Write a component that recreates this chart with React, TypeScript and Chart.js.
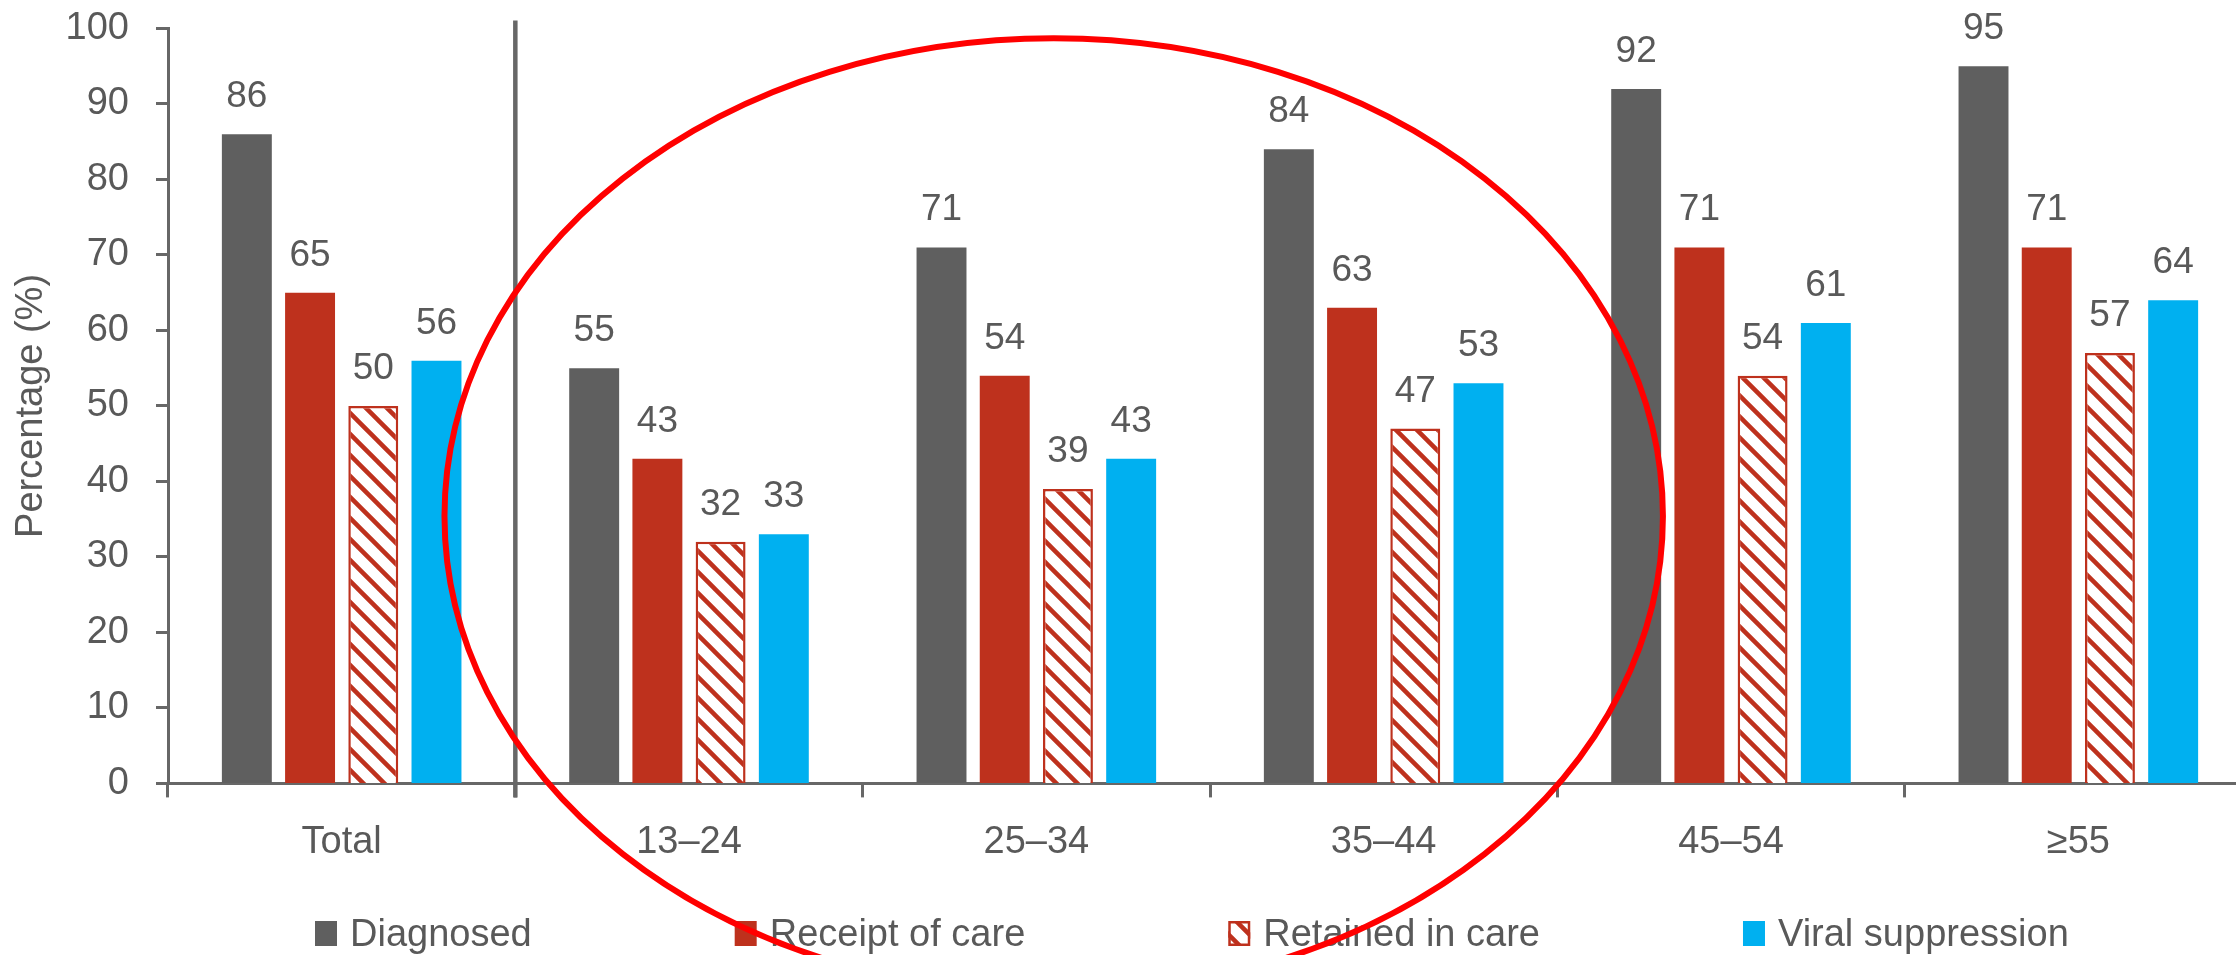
import { useEffect, useRef } from "react";
import { Chart, registerables } from "chart.js";

Chart.register(...registerables);

// Care continuum by age group, percentages
const categories = ["Total", "13–24", "25–34", "35–44", "45–54", "≥55"];
const seriesNames = ["Diagnosed", "Receipt of care", "Retained in care", "Viral suppression"];
const diagnosed = [86, 55, 71, 84, 92, 95];
const receiptOfCare = [65, 43, 54, 63, 71, 71];
const retainedInCare = [50, 32, 39, 47, 54, 57];
const viralSuppression = [56, 33, 43, 53, 61, 64];
const yAxisTitle = "Percentage (%)";

// Highlight ring around the younger age groups, in axis units (category index / percent)
const highlightCenterIndex = 2.05;
const highlightCenterValue = 35.4;
const highlightHalfWidth = 1.754;
const highlightHalfHeight = 63.3;

const GRAY = "#5F5F5F";
const RED = "#BE311D";
const BLUE = "#00B0F0";
const TEXT = "#595959";
const AXIS = "#676767";
const FONT = "'Liberation Sans', Arial, sans-serif";

function makeHatch(): CanvasPattern | string {
  const s = 21;
  const c = document.createElement("canvas");
  c.width = s;
  c.height = s;
  const g = c.getContext("2d");
  if (!g) return RED;
  g.fillStyle = "#FFFFFF";
  g.fillRect(0, 0, s, s);
  g.strokeStyle = RED;
  g.lineWidth = 4.5;
  g.beginPath();
  g.moveTo(-3, -3);
  g.lineTo(s + 3, s + 3);
  g.moveTo(-3, s - 3);
  g.lineTo(3, s + 3);
  g.moveTo(s - 3, -3);
  g.lineTo(s + 3, 3);
  g.stroke();
  const p = g.createPattern(c, "repeat");
  return p || RED;
}

const separatorPlugin = {
  id: "groupSeparator",
  afterDraw(chart: any) {
    const { ctx, chartArea, scales } = chart;
    const x = scales.x.getPixelForValue(0.5);
    ctx.save();
    ctx.strokeStyle = AXIS;
    ctx.lineWidth = 4.5;
    ctx.beginPath();
    ctx.moveTo(x, chartArea.top - 8);
    ctx.lineTo(x, chartArea.bottom + 14);
    ctx.stroke();
    ctx.restore();
  },
};

const valueLabelPlugin = {
  id: "valueLabels",
  afterDatasetsDraw(chart: any) {
    const { ctx } = chart;
    ctx.save();
    ctx.font = `37px ${FONT}`;
    ctx.fillStyle = TEXT;
    ctx.textAlign = "center";
    ctx.textBaseline = "alphabetic";
    chart.data.datasets.forEach((ds: any, i: number) => {
      const meta = chart.getDatasetMeta(i);
      meta.data.forEach((el: any, j: number) => {
        ctx.fillText(String(ds.data[j]), el.x, el.y - 27);
      });
    });
    ctx.restore();
  },
};

const legendPlugin = {
  id: "bottomLegend",
  afterDraw(chart: any) {
    const { ctx, chartArea } = chart;
    const baseline = chart.height - 9;
    ctx.save();
    ctx.font = `38px ${FONT}`;
    ctx.textAlign = "left";
    ctx.textBaseline = "alphabetic";
    let x = chartArea.left + 147;
    chart.data.datasets.forEach((ds: any) => {
      ctx.fillStyle = ds.backgroundColor;
      ctx.fillRect(x, baseline - 25, 22, 25);
      if (ds.borderWidth) {
        ctx.strokeStyle = ds.borderColor;
        ctx.lineWidth = 2.5;
        ctx.strokeRect(x + 1.25, baseline - 25 + 1.25, 22 - 2.5, 25 - 2.5);
      }
      ctx.fillStyle = TEXT;
      ctx.fillText(ds.label, x + 35, baseline);
      x += 35 + ctx.measureText(ds.label).width + 203;
    });
    ctx.restore();
  },
};

const highlightPlugin = {
  id: "highlightRing",
  afterDraw(chart: any) {
    const { ctx, scales } = chart;
    const xs = scales.x;
    const ys = scales.y;
    const cx = xs.getPixelForValue(highlightCenterIndex);
    const rx = xs.getPixelForValue(highlightCenterIndex + highlightHalfWidth) - cx;
    const cy = ys.getPixelForValue(highlightCenterValue);
    const ry = cy - ys.getPixelForValue(highlightCenterValue + highlightHalfHeight);
    ctx.save();
    ctx.strokeStyle = "#FF0000";
    ctx.lineWidth = 6;
    ctx.beginPath();
    ctx.ellipse(cx, cy, rx, ry, 0, 0, Math.PI * 2);
    ctx.stroke();
    ctx.restore();
  },
};

export default function App() {
  const canvasRef = useRef<HTMLCanvasElement | null>(null);

  useEffect(() => {
    const canvas = canvasRef.current;
    if (!canvas) return;
    const hatch = makeHatch();
    const chart = new Chart(canvas, {
      type: "bar",
      data: {
        labels: categories,
        datasets: [
          { label: seriesNames[0], data: diagnosed, backgroundColor: GRAY, borderWidth: 0 },
          { label: seriesNames[1], data: receiptOfCare, backgroundColor: RED, borderWidth: 0 },
          {
            label: seriesNames[2],
            data: retainedInCare,
            backgroundColor: hatch as any,
            borderColor: RED,
            borderWidth: 2.5,
          },
          { label: seriesNames[3], data: viralSuppression, backgroundColor: BLUE, borderWidth: 0 },
        ],
      },
      options: {
        responsive: false,
        animation: false,
        devicePixelRatio: 1,
        layout: { padding: { top: 28.5, left: 0, right: 0, bottom: 68 } },
        datasets: {
          bar: { categoryPercentage: 0.728, barPercentage: 0.79 },
        },
        plugins: {
          legend: { display: false },
          tooltip: { enabled: false },
        },
        scales: {
          x: {
            grid: {
              offset: true,
              drawOnChartArea: false,
              drawTicks: true,
              tickLength: 14,
              tickWidth: 3,
              tickColor: AXIS,
            },
            border: { display: true, color: AXIS, width: 3 },
            ticks: {
              color: TEXT,
              font: { family: FONT, size: 38 },
              padding: 22,
              maxRotation: 0,
              autoSkip: false,
            },
          },
          y: {
            min: 0,
            max: 100,
            afterFit: (scale: any) => {
              scale.width = 168;
              scale.paddingTop = 0;
              scale.paddingBottom = 0;
            },
            grid: {
              drawOnChartArea: false,
              drawTicks: true,
              tickLength: 12,
              tickWidth: 3,
              tickColor: AXIS,
            },
            border: { display: true, color: AXIS, width: 3 },
            ticks: {
              stepSize: 10,
              color: TEXT,
              font: { family: FONT, size: 38 },
              padding: 27,
            },
            title: {
              display: true,
              text: yAxisTitle,
              color: TEXT,
              font: { family: FONT, size: 38 },
              padding: { top: 9, bottom: 0 },
            },
          },
        },
      },
      plugins: [separatorPlugin, valueLabelPlugin, legendPlugin, highlightPlugin],
    });
    return () => chart.destroy();
  }, []);

  return (
    <div
      style={{
        position: "fixed",
        left: 0,
        top: 0,
        width: "100vw",
        height: "100vh",
        overflow: "hidden",
        background: "#FFFFFF",
      }}
    >
      <canvas
        ref={canvasRef}
        width={2252}
        height={955}
        style={{ display: "block", width: 2252, height: 955 }}
      />
    </div>
  );
}
